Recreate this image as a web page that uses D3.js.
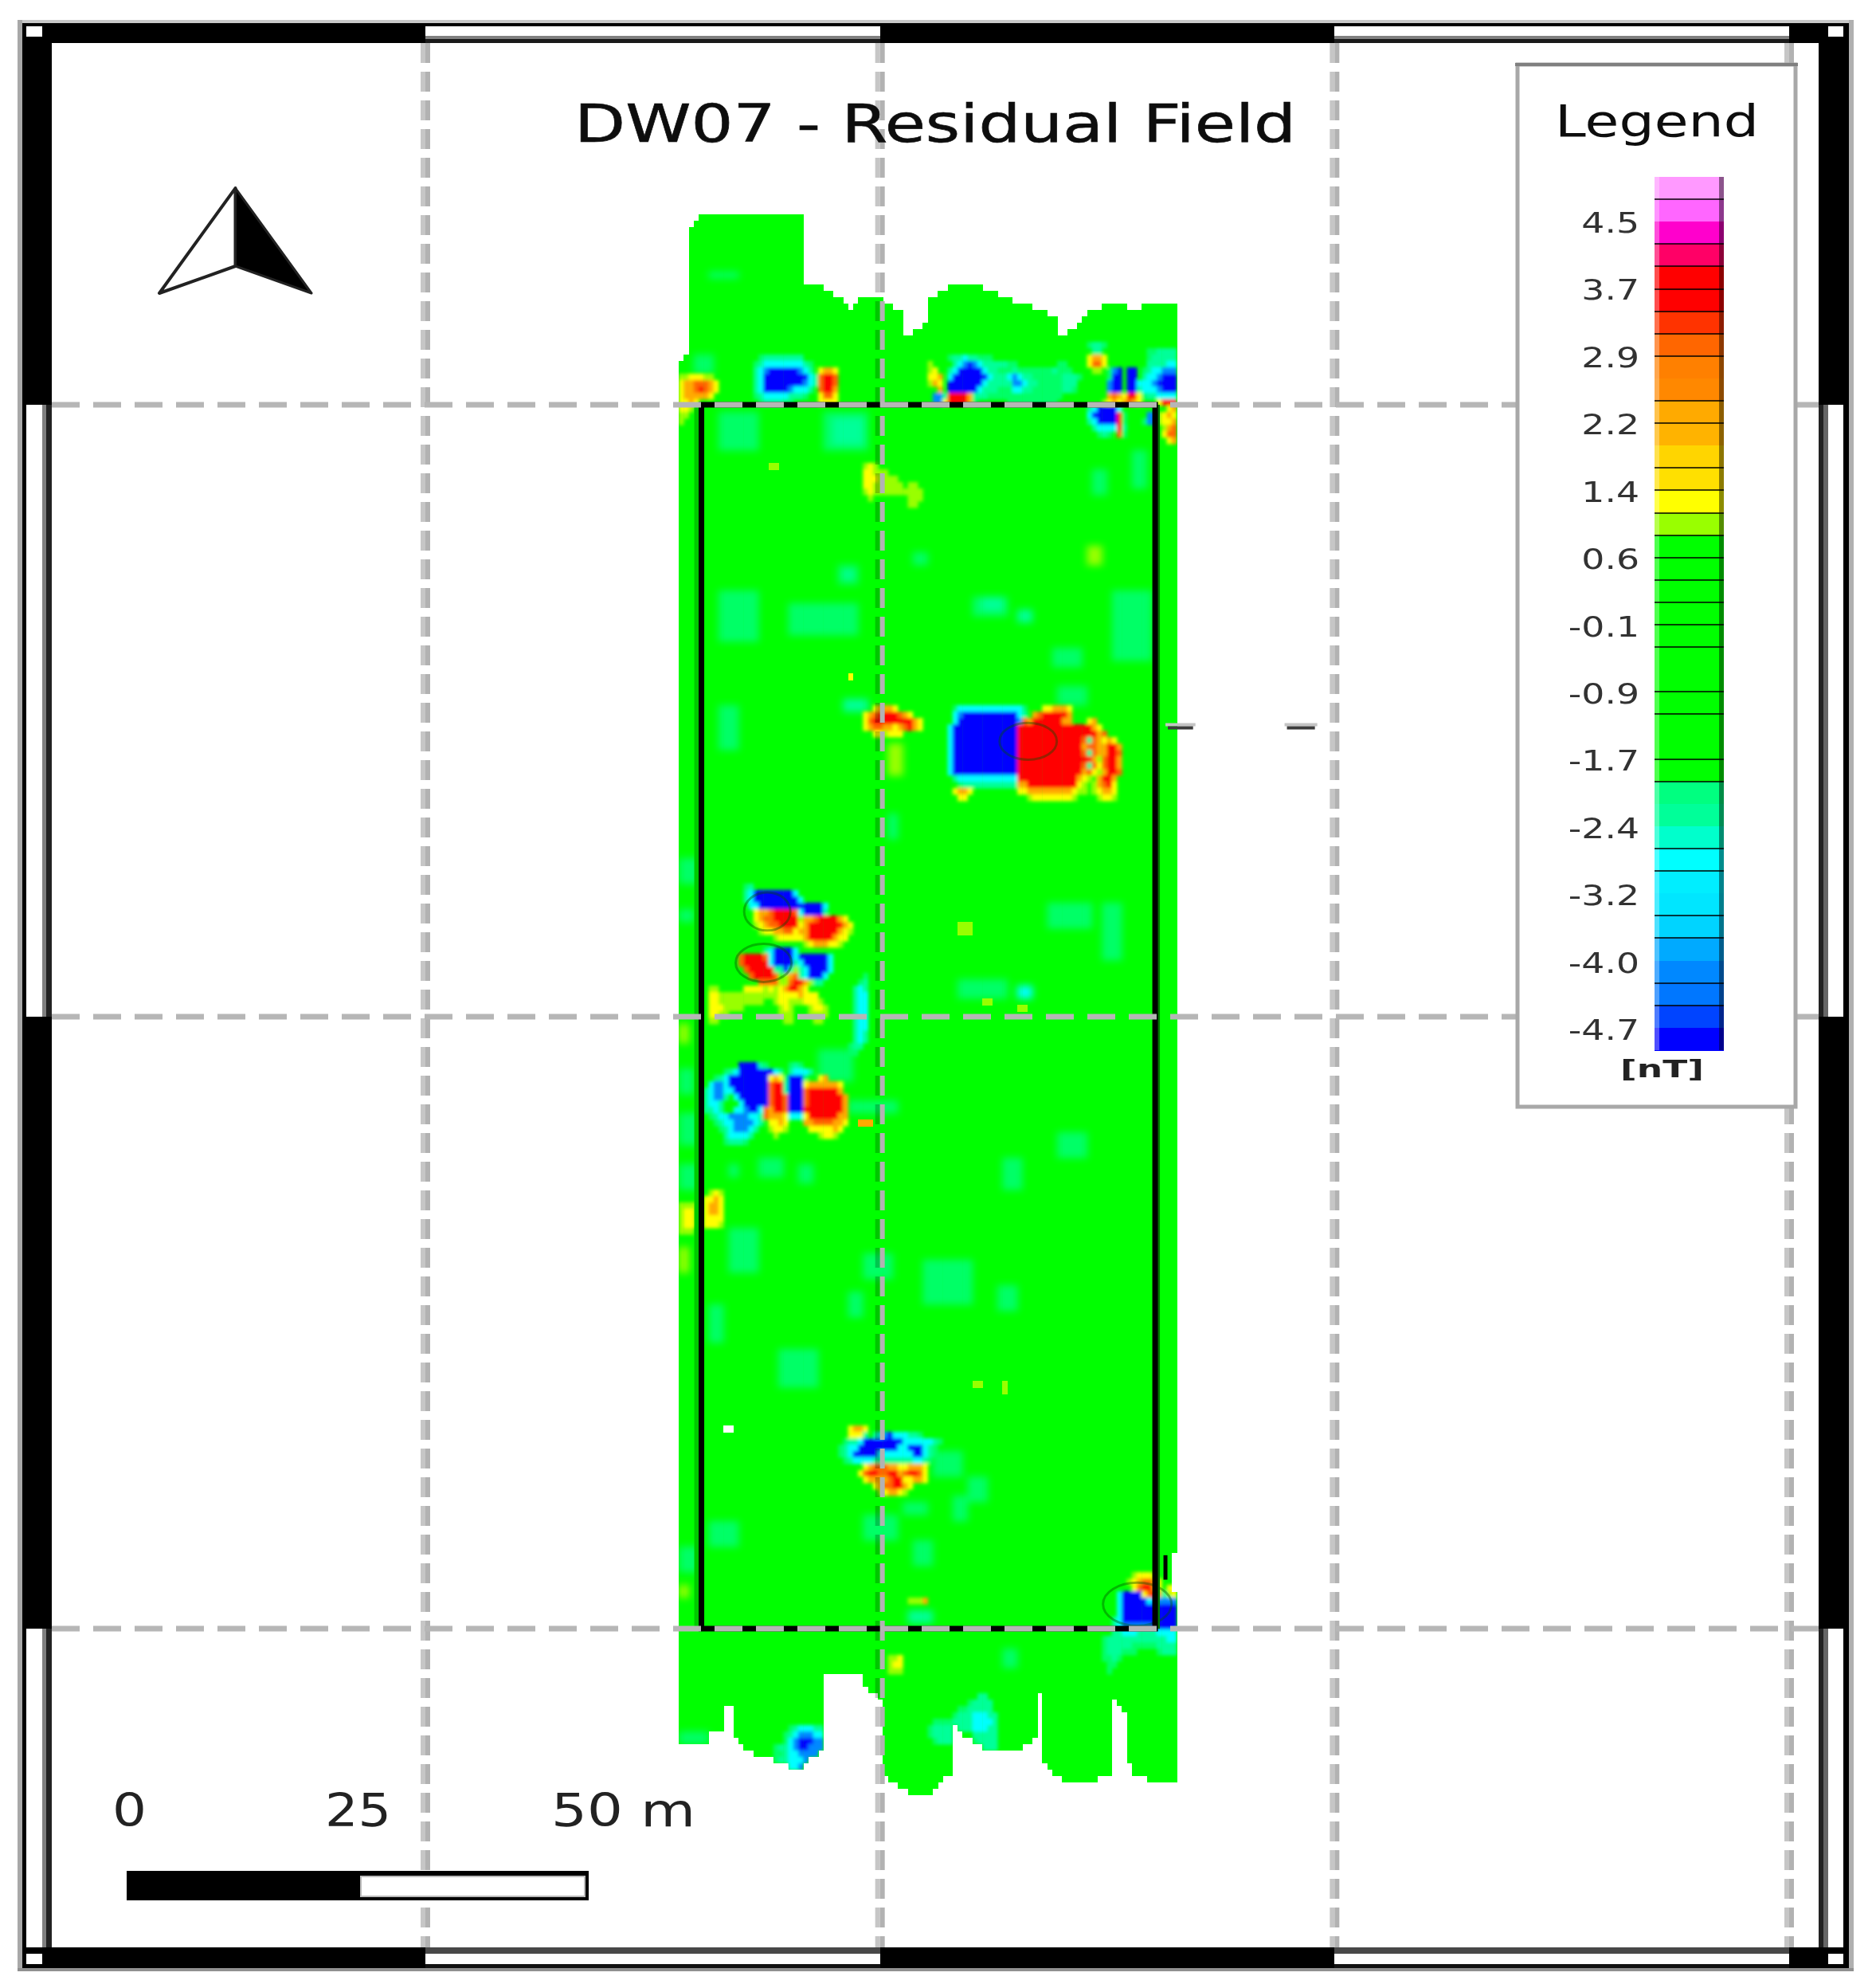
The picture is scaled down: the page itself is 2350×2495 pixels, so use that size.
<!DOCTYPE html>
<html><head><meta charset="utf-8">
<script src="https://cdn.jsdelivr.net/npm/d3@7/dist/d3.min.js"></script>
<style>html,body{margin:0;padding:0;background:#fff}svg{display:block}text{font-family:"DejaVu Sans",sans-serif}</style>
</head><body><svg id="map" width="2350" height="2495"></svg>
<script>
const titleText = "DW07 - Residual Field";
const legendTitle = "Legend";
const unitLabel = "[nT]";
const legendTicks = [4.5,3.7,2.9,2.2,1.4,0.6,-0.1,-0.9,-1.7,-2.4,-3.2,-4.0,-4.7];
const legendColors = ["#ff99ff","#ff66ff","#ff00cc","#ff0066","#ff0000","#ff0000","#ff3300","#ff6600","#ff8000","#ff8800","#ffaa00","#ffb300","#ffd500","#ffe000","#ffff00","#99ff00","#00ff00","#00ff00","#00ff00","#00ff00","#00ff00","#00ff00","#00ff00","#00ff00","#00ff00","#00ff00","#00ff00","#00ff80","#00ff99","#00ffcc","#00ffff","#00eeff","#00e6ff","#00d4ff","#00aaff","#0088ff","#0077ff","#0044ff","#0000ff"];
const legendRules = [1,3,4,5,6,7,8,10,11,13,14,15,16,17,18,19,20,21,23,24,26,27,30,31,33,34,36,37];
const gridEast = [0,50,100,150];
const gridNorth = [100,50,0];
const surveyEast = [30.1,80];
const surveyNorth = [0,100];
const scaleBarStops = [0,25,50];
const scaleBarLabels = ["0","25","50 m"];
const columnTop = [23,22,2,1,0,0,0,0,0,0,0,0,0,0,0,0,0,0,0,0,0,0,0,0,0,11,11,11,11,12,12,13,13,14,15,14,13,13,13,13,13,14,14,15,15,19,19,18,18,17,13,13,12,12,11,11,11,11,11,11,11,12,12,12,13,13,13,14,14,14,14,15,15,15,16,16,19,19,18,18,17,16,15,15,15,14,14,14,14,14,15,15,15,14,14,14,14,14,14,14];
const columnBottom = [240,240,240,240,240,240,238,238,238,234,234,239,240,241,241,242,242,242,242,243,243,243,244,244,244,243,242,242,241,229,229,229,229,229,229,229,229,231,232,232,233,245,246,246,247,247,248,248,248,248,248,247,246,245,245,237,238,239,239,240,240,241,241,241,241,241,241,241,241,240,240,239,232,243,244,245,245,246,246,246,246,246,246,246,245,245,245,233,234,235,243,245,245,245,246,246,246,246,246,246];
// field letter -> colour class
const fieldClass = {B:38,D:35,C:30,T:28,L:15,Y:14,A:10,O:7,R:4};
const extraColors = {t:"#00ff66",G:"#00ff00",W:"#ffffff"};
// faint blocks [colFrom,colTo,rowFrom,rowTo,letter]
const softBlocks = [
[6,11,9,9,"t"],[3,6,22,24,"t"],[8,15,31,36,"t"],[29,37,31,36,"t"],[31,36,32,35,"T"],
[83,85,40,43,"t"],[91,93,37,42,"t"],[47,49,53,54,"t"],[32,35,55,57,"t"],[33,34,56,56,"T"],
[22,35,61,65,"t"],[8,15,59,66,"t"],[59,65,60,62,"t"],[61,64,60,61,"T"],[68,70,62,63,"T"],
[87,94,59,69,"t"],[75,80,68,70,"t"],[76,81,74,76,"t"],[8,11,77,83,"t"],[42,43,94,97,"t"],[33,37,76,77,"T"],
[74,82,108,111,"t"],[85,88,108,116,"t"],[76,81,144,147,"t"],[65,68,148,152,"t"],[49,58,164,170,"t"],[64,67,168,171,"t"],
[16,20,148,150,"t"],[10,11,149,150,"t"],[24,26,149,151,"t"],[10,15,159,165,"t"],[37,42,163,166,"t"],[34,36,169,172,"t"],
[6,8,171,176,"t"],[20,27,178,183,"t"],[56,65,120,122,"t"],[68,70,121,122,"C"],[34,43,139,140,"t"],[28,34,131,135,"t"],
[0,3,101,104,"t"],[0,2,109,110,"t"],[0,2,134,137,"t"],[0,3,141,145,"t"],[0,3,149,152,"t"],
[51,56,194,197,"t"],[58,61,198,201,"t"],[55,57,201,204,"t"],[45,49,202,203,"t"],[37,43,204,207,"t"],[6,11,205,208,"t"],
[47,50,208,211,"t"],[0,3,209,212,"t"],[46,50,219,220,"T"],[65,67,225,227,"t"],[0,8,238,240,"t"],
[82,84,52,54,"L"],[42,44,83,87,"L"],[0,1,127,129,"L"],[0,1,162,165,"L"],[0,1,215,216,"L"]
];
// sharp little specks and notches [colFrom,colTo,rowFrom,rowTo,letter]
const specks = [
[18,19,39,39,"L"],[56,58,111,112,"L"],[61,62,123,123,"L"],[68,69,124,124,"L"],[59,60,183,183,"L"],[65,65,183,184,"L"],
[34,34,72,72,"Y"],[36,38,142,142,"A"],[99,99,210,215,"W"],[9,10,190,190,"W"]
];
// detailed patches [firstCol, firstRow, rows]
const fieldPatches = [
[0,25,["LLYYYLL.","YAAOOOAY","YAAOROAY","YAAAAAY","YYAY","YYL","LL","L"]],
[13,22,["...tTTTTTTTT...","..tTCCCCCCCCTt.","..TCDBBBBBBDCT.","..TCBBBBBBBBBCT","..TCBBBBBBBBDCT","..TCBBBBBDCCCT.","..tTCCCCCTTTt..","...tTTTTtt....."]],
[28,24,["YAAY","ORRO","ORRO","ORRA","YOOY","YYYY"]],
[49,22,[".....tTTCTTttt..................",".L....TCDBDCTTTTTtt........tt...",".LY..TCBBBBBCTTtttTtttttttTttt..",".YYA.CBBBBBBBCTTTCDCTTttttttTTTt.",".LAY.BBBBBBBCTTTTTDDCTTtttttTTT.","...A.BBBBBBCTTTtttCCTTttttttTTt..","..DDTRRRRATTTttttttttttttttt.....","..DDYRRRRAt......tttttttttt....."]],
[81,20,[".tTTt..............","..TT.........ttTTTT",".YAAY........tTTTTT",".YOOY........TTTTCC","..LL.tDB.BB.tTCCDDD",".....tBB.BB.TCCDBBB",".....DBB.BBCCCDBBBB",".....DBB.BBTCCCDBBB",".....AOAYRRYtTTCCCC","....LYAYAOAY...YRRR",".TCBBBBC.........YA",".CBBBBBRt....DDLYAY",".TCBBBBRt...tDDLYYA","..TCCCCRT.......LAO","...tTt.Ot.......YOO",".................YA"]],
[37,39,["LYL.........","YYLLL.......","YYYLLLL.....","YYLLLLLL.LL.","LYLLLLLLLLLL",".L.......LLL",".........LL."]],
[37,77,["..YAAAY.....","YAORRRROAY..","YORRRRRRRRAY","YAOOAAYAORAY","..YYLYYY...."]],
[53,77,[
"..tCCCCCCCCCCCCCt...YYAAAY..........",
"..CDBBBBBBBBBBBCT.AORRRRRA..........",
"..CBBBBBBBBBBBBDOARRRRRRAA...YA.....",
".CBBBBBBBBBBBBBRRRRRRRRRRRRRRRAY....",
".CBBBBBBBBBBBBBRRRRRRRRRRRRRRRRAO...",
".CBBBBBBBBBBBBBRRRRRRRRRRRRROTOAYAY.",
".CBBBBBBBBBBBBBRRRRRRRRRRRRRAOOAARRA",
".CBBBBBBBBBBBBBRRRRRRRRRRRRROTOAARRO",
".CBBBBBBBBBBBBBRRRRRRRRRRRRRRRALORRA",
".CBBBBBBBBBBBBBRRRRRRRRRRRRROTOYORRA",
".CBBBBBBBBBBBBBRRRRRRRRRRRRRAOYLARRO",
"..TCCCCCCCCCCCCRRRRRRRRRRRRAYLGARRA",
"...tTTTTTTTTTTTAARRRRRRRRRRYLGLAORY",
"..YAAY.........YYAAAAAAAAAYLLGLYAAY",
"...YY............LYYYYYYYYL....LYYL"]],
[12,105,[".tT....................",".TCBBBBBBBBC...........",".TCBBBBBBBBBC..........","..CCBBBBBBBBBBBBBC.....","...YAAORRRROCBBBBT.....","...YAOORRRRRLAAORRRRAY.","...LYAOORRRRYARRRRRRRAY","....LYYAAOOYAARRRRRRAYL",".......LYYYYYARRRRRAYY.",".............LYAAAYYL.."]],
[6,115,["...........TCBBBBC........","......ORRRROCBBBBCBBBBBBC.","......ORRRRRCBBBBTCBBBBBC.",".......ORRRRRTTBTLTCBBBBC.","........ORRRROGLAOTCBBBC..","..........OOOOLLORRALTT...","LL.....YYYYLYLYARRAY......","YYLLLLLLLLLLLLYYYYAYYY....","YYLLLLLLLLL..LYYLLLYYYL...","YYYLLLL.......LYL...LYYL..","YYLL..........LLL...LLLL..","LL.............LL....LL..."]],
[34,119,["...t","..tT",".TCT",".TCC",".TCC",".TCC",".TCC",".TCC",".TCC",".TCT",".TCT","tTT.","tt.."]],
[4,133,["........BBBBTt....tTt.........",".....tTCBBBBBBBCT.TCCCT......","...tTCBBBBBBBBYAYtBBBt..YA....","..CDDCBBBBBBBBORRTBBBYAAAAAAY.",".TCDDCCBBBBBBBORRTBBBORRRRRRA.",".TCDDT.CBBBBBBORROBBBORRRRRRRA",".TCCT...CBBBBBORROBBBORRRRRRRA",".TTCT..CCDBBCOARROBBBRRRRRRRRA","..tTCCDDDDCCTOAAAYCCCYRRRRRRAA","...tTCCDDDDCT.YYAY...AAOOOOAAY","....tTCDDDCT..LYYL....YYYYYAY.",".....TCCCCT....L........LYYL..",".....tTTTt...................."]],
[0,153,["......LYL",".....YYAY","LLLL.YAAY","LYYL.YAAY","LYYL.YYYY","LYYL.YYYL","LLL......"]],
[31,190,["...YAAY","...YYYT.TCDBCCCTTt.....","..tTTCBBBBBBBBCCCCCCTt",".tTCCBBBBBBBBCCBBBCTt",".tTCBBBBBCCCCCCCBBCTt","..tTCCCCTTTTTTTTCCTt"]],
[36,196,[".YAOOOAAYYAAAY","YORROORRAORROY",".YAAAAORRYYAAY","...YAOORRAY...","....LYAAYL...."]],
[46,217,["LLLA"]],
[85,213,["......LYYYL",".....LYAOOAY...","......YORRAY.YY","...CBBBBYORATLY","...CBBBBBCDDDDD","...CBBBBBBBBBBB","...CBBBBBBBBBBB","..TCBBBBBBBBBBB","..TCDDDDDDBBBBB","..TTCCCTTTTCCCC","tTTTTTTTTTTTTCC","tTTTTTtttttTTTT","tTTTttt....tTTT","ttTt...",".tt",".t"]],
[42,226,["LLY","LYY","LLL"]],
[19,237,["...tTCCCTT","..tTCDDDCC","..tCDBBBDD","tTTCDBBDDD","ttTCCDDDDD","tTTCCCDDD.","..TCCDDD.."]],
[49,232,["...........TT..",".........tTTTT",".......ttTTTTT","......tTTTCCCTT","..ttttTTTTCCCCT",".tTTTTTTTTCCCTT",".tTTTTT...TTTTT","..tTTTt...tTTTT","............TTT"]]
];
const anomalyRings = [{e:66.3,n:72.5,re:3.15,rn:1.5},{e:37.6,n:58.6,re:2.54,rn:1.56},{e:37.2,n:54.4,re:3.07,rn:1.56},{e:78.3,n:2.0,re:3.77,rn:1.76}];
const flightTicks = [[81.4,84.7,73.6],[94.5,98.1,73.6]];
const flightNotch = [81.4,6,4];
const northLeft = [[0,0.97],[-0.48,0],[0,0.25]];
const northRight = [[0,0.97],[0.48,0],[0,0.25]];

const svg = d3.select("#map");
const defs = svg.append("defs");
const blur=(id,s)=>defs.append("filter").attr("id",id).attr("filterUnits","userSpaceOnUse").attr("x",0).attr("y",0).attr("width",2350).attr("height",2495)
  .append("feGaussianBlur").attr("stdDeviation",s);
blur("softBlur",5); blur("fineBlur",2.2); blur("textBlur",0.7);

const x = d3.scaleLinear().domain([0,150]).range([534,2246]);
const y = d3.scaleLinear().domain([0,100]).range([2044,508]);
const colScale = d3.scaleBand().domain(d3.range(columnTop.length)).range([852,1477]);
const rowScale = d3.scaleBand().domain(d3.range(249)).range([269,2261]);
const colorOf = k => extraColors[k] || legendColors[fieldClass[k]];

// raster
const columnRect = s => s.attr("x",(d,i)=>colScale(i)).attr("width",colScale.bandwidth()+0.5)
 .attr("y",d=>rowScale(d)).attr("height",(d,i)=>rowScale(columnBottom[i])-rowScale(d));
defs.append("clipPath").attr("id","coverage").selectAll("rect").data(columnTop).join("rect").call(columnRect);
const rasterBase = svg.append("g").attr("shape-rendering","crispEdges");
rasterBase.selectAll("rect").data(columnTop).join("rect").call(columnRect).attr("fill","#00ff00");
const inMask=(c,r)=>c>=0&&c<columnTop.length&&r>=columnTop[c]&&r<columnBottom[c];
const expand=list=>{const out=[];list.forEach(([c0,c1,r0,r1,k])=>{for(let c=c0;c<=c1;c++)for(let r=r0;r<=r1;r++)if(inMask(c,r))out.push({c,r,k});});return out;};
const softCells=expand(softBlocks), speckCells=expand(specks), patchCells=[];
fieldPatches.forEach(([c0,r0,rows])=>rows.forEach((s,j)=>[...s].forEach((k,i)=>{if(k!=="."&&inMask(c0+i,r0+j))patchCells.push({c:c0+i,r:r0+j,k});})));
const drawCells=(g,data)=>g.selectAll("rect").data(data).join("rect")
 .attr("x",d=>colScale(d.c)).attr("y",d=>rowScale(d.r))
 .attr("width",colScale.bandwidth()+0.5).attr("height",rowScale.bandwidth()+0.5)
 .attr("fill",d=>colorOf(d.k));
const clipped = svg.append("g").attr("clip-path","url(#coverage)");
drawCells(clipped.append("g").attr("filter","url(#softBlur)"),softCells);
drawCells(clipped.append("g").attr("filter","url(#fineBlur)"),patchCells);
drawCells(svg.append("g").attr("shape-rendering","crispEdges"),speckCells);

// anomaly outlines
svg.append("g").selectAll("ellipse").data(anomalyRings).join("ellipse")
 .attr("cx",d=>x(d.e)).attr("cy",d=>y(d.n))
 .attr("rx",d=>x(d.re)-x(0)).attr("ry",d=>y(0)-y(d.rn))
 .attr("fill","none").attr("stroke","#005000").attr("stroke-opacity",0.4).attr("stroke-width",3);

// survey rectangle
const survey = svg.append("g");
survey.append("rect").attr("x",x(surveyEast[0])-6).attr("width",6).attr("y",y(surveyNorth[1])).attr("height",y(surveyNorth[0])-y(surveyNorth[1])).attr("fill","#00c800");
survey.append("rect").attr("x",x(surveyEast[1])+3).attr("width",6).attr("y",y(surveyNorth[1])).attr("height",y(surveyNorth[0])-y(surveyNorth[1])).attr("fill","#007800");
survey.append("rect").attr("x",x(surveyEast[0])+3).attr("y",y(surveyNorth[1])).attr("width",x(surveyEast[1])-x(surveyEast[0])).attr("height",y(surveyNorth[0])-y(surveyNorth[1]))
 .attr("fill","none").attr("stroke","#000").attr("stroke-width",7);

// graticule
const grid = svg.append("g");
gridEast.forEach(e=>{
  grid.append("line").attr("x1",x(e)-3).attr("x2",x(e)-3).attr("y1",54).attr("y2",2444)
   .attr("stroke","#c6c6c6").attr("stroke-width",6).attr("stroke-dasharray","25 11").style("mix-blend-mode","multiply");
  grid.append("line").attr("x1",x(e)+3).attr("x2",x(e)+3).attr("y1",54).attr("y2",2444)
   .attr("stroke","#b2b2b2").attr("stroke-width",6).attr("stroke-dasharray","25 11");
});
gridNorth.forEach(n=>{
  grid.append("line").attr("x1",65).attr("x2",2283).attr("y1",y(n)).attr("y2",y(n))
   .attr("stroke","#b6b6b6").attr("stroke-width",7).attr("stroke-dasharray","35 17");
});

// flight line marks
const marks = svg.append("g");
flightTicks.forEach(([a,b,n])=>{
  marks.append("rect").attr("x",x(a)).attr("width",x(b)-x(a)).attr("y",y(n)-6).attr("height",4).attr("fill","#c4c4c4");
  marks.append("rect").attr("x",x(a)+3).attr("width",x(b)-x(a)-6).attr("y",y(n)-2).attr("height",4).attr("fill","#3c3c3c");
});
marks.append("line").attr("x1",x(flightNotch[0])).attr("x2",x(flightNotch[0])).attr("y1",y(flightNotch[1])).attr("y2",y(flightNotch[1]-2))
 .attr("stroke","#000").attr("stroke-width",5);

// neatline: alternating bands along the graticule
const frame = svg.append("g").attr("shape-rendering","crispEdges");
const F = {l0:28,l1:65,r0:2283,r1:2321,t0:29,t1:54,b0:2448,b1:2470};
const rectF=(a,b,c,d,f)=>frame.append("rect").attr("x",a).attr("y",c).attr("width",b-a).attr("height",d-c).attr("fill",f);
rectF(22,2327,25,29,"#c8c8c8"); rectF(22,28,25,2473,"#a8a8a8"); rectF(2321,2327,25,2473,"#b0b0b0"); rectF(22,2327,2470,2474,"#909090");
const xStops=[F.l1].concat(gridEast.map(x),[F.r0]);
const yStops=[F.t1].concat(gridNorth.map(y),[F.b0]);
d3.pairs(xStops).forEach(([a,b],i)=>{
  if(i%2===0){rectF(a,b,F.t0,F.t1,"#000");rectF(a,b,F.b0-4,F.b1,"#000");}
  else{
    rectF(a,b,F.t0,33,"#000");rectF(a,b,33,45,"#fff");rectF(a,b,45,49,"#808080");rectF(a,b,49,F.t1,"#191919");
    rectF(a,b,2444,2452,"#484848");rectF(a,b,2452,2465,"#fff");rectF(a,b,2465,F.b1,"#111");
  }
});
d3.pairs(yStops).forEach(([a,b],i)=>{
  if(i%2===0){rectF(F.l0,F.l1,a,b,"#000");rectF(F.r0,F.r1,a,b,"#000");}
  else{
    rectF(F.l0,33,a,b,"#000");rectF(33,53,a,b,"#fff");rectF(53,58,a,b,"#808080");rectF(58,F.l1,a,b,"#222");
    rectF(F.r0,2289,a,b,"#222");rectF(2289,2295,a,b,"#666");rectF(2295,2314,a,b,"#fff");rectF(2314,F.r1,a,b,"#000");
  }
});
[[F.l0,F.l1,F.t0,F.t1],[F.r0,F.r1,F.t0,F.t1],[F.l0,F.l1,2444,F.b1],[F.r0,F.r1,2444,F.b1]].forEach(([a,b,c,d],i)=>{
  rectF(a,b,c,d,"#000");
  const wx=i%2===0?[33,53]:[2295,2314], wy=i<2?[33,46]:[2452,2465];
  rectF(wx[0],wx[1],wy[0],wy[1],"#fff");
});

// legend
const lg = svg.append("g");
lg.append("rect").attr("x",1905).attr("y",81).attr("width",349).attr("height",1308).attr("fill","#fff").attr("stroke","#a8a8a8").attr("stroke-width",5);
lg.append("line").attr("x1",1902).attr("x2",2257).attr("y1",81).attr("y2",81).attr("stroke","#808080").attr("stroke-width",4);
lg.append("text").text(legendTitle).attr("x",1952).attr("y",171).attr("font-size",55).attr("textLength",256).attr("lengthAdjust","spacingAndGlyphs").attr("fill","#111").attr("filter","url(#textBlur)");
const band = d3.scaleBand().domain(d3.range(legendColors.length)).range([222,1318]);
const barG = lg.append("g").attr("shape-rendering","crispEdges");
barG.selectAll("rect").data(legendColors).join("rect").attr("x",2077).attr("width",87).attr("y",(d,i)=>band(i)).attr("height",band.bandwidth()+0.5).attr("fill",d=>d);
barG.append("rect").attr("x",2077).attr("width",6).attr("y",222).attr("height",1096).attr("fill","#fff").attr("fill-opacity",0.3);
barG.append("rect").attr("x",2158).attr("width",6).attr("y",222).attr("height",1096).attr("fill","#000").attr("fill-opacity",0.45);
barG.selectAll("line").data(legendRules).join("line").attr("x1",2077).attr("x2",2164).attr("y1",d=>band(d)).attr("y2",d=>band(d)).attr("stroke","#000").attr("stroke-opacity",0.75).attr("stroke-width",2);
const tickY = d3.scalePoint().domain(legendTicks).range([279,1292]);
lg.append("g").attr("filter","url(#textBlur)").selectAll("text").data(legendTicks).join("text")
 .attr("transform",d=>`translate(2058,${tickY(d)+13}) scale(1.27,1)`)
 .attr("text-anchor","end").attr("font-size",36).attr("fill","#333")
 .text(d=>d.toFixed(1));
lg.append("text").text(unitLabel).attr("x",2034).attr("y",1352).attr("font-size",30).attr("font-weight","bold").attr("textLength",105).attr("lengthAdjust","spacingAndGlyphs").attr("fill","#222").attr("filter","url(#textBlur)");

// title
svg.append("text").text(titleText).attr("x",721).attr("y",178).attr("font-size",66).attr("textLength",906).attr("lengthAdjust","spacingAndGlyphs").attr("fill","#111").attr("stroke","#111").attr("stroke-width",0.6).attr("filter","url(#textBlur)");

// north arrow
const nx = d3.scaleLinear().domain([-0.5,0.5]).range([196,395]);
const ny = d3.scaleLinear().domain([0,1]).range([368,232]);
const nLine = d3.line().x(d=>nx(d[0])).y(d=>ny(d[1])).curve(d3.curveLinearClosed);
svg.append("path").attr("d",nLine(northLeft)).attr("fill","#fff").attr("stroke","#222").attr("stroke-width",4).attr("stroke-linejoin","round");
svg.append("path").attr("d",nLine(northRight)).attr("fill","#000").attr("stroke","#222").attr("stroke-width",3).attr("stroke-linejoin","round");

// scale bar
const sb = d3.scaleLinear().domain([0,50]).range([159,739]);
const sbG = svg.append("g");
sbG.append("rect").attr("x",sb(0)).attr("y",2348).attr("width",sb(50)-sb(0)).attr("height",37).attr("fill","#000");
sbG.append("rect").attr("x",sb(25)+4).attr("y",2355).attr("width",sb(50)-sb(25)-9).attr("height",25).attr("fill","#fff").attr("stroke","#bbb").attr("stroke-width",2);
const labelLen = [43,83,181], labelStart=[141,408,692];
sbG.selectAll("text").data(scaleBarLabels).join("text").text(d=>d)
 .attr("x",(d,i)=>labelStart[i]).attr("y",2292).attr("font-size",57).attr("fill","#222").attr("filter","url(#textBlur)")
 .attr("textLength",(d,i)=>labelLen[i]).attr("lengthAdjust","spacingAndGlyphs");
</script></body></html>
